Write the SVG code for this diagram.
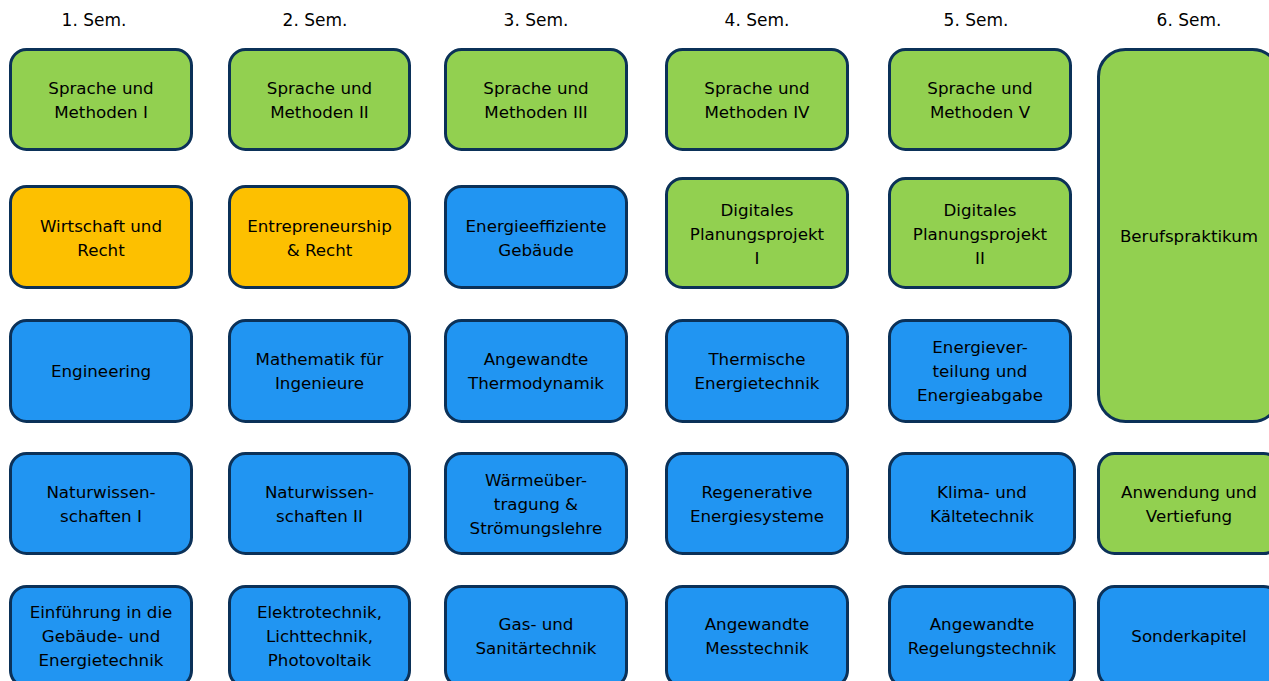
<svg xmlns="http://www.w3.org/2000/svg" width="1269" height="681" viewBox="0 0 1269 681">
<style>
.b{stroke:#0b3158;stroke-width:3}
.g{fill:#92d050}
.o{fill:#fdc000}
.u{fill:#2195f2}
text{font-family:"DejaVu Sans",Verdana,sans-serif;font-size:16.7px;fill:#000;text-anchor:middle}
#headers text{font-size:17px}
</style>
<rect width="1269" height="681" fill="#fff"/>
<g id="headers">
<text x="94" y="26">1. Sem.</text>
<text x="315" y="26">2. Sem.</text>
<text x="536" y="26">3. Sem.</text>
<text x="757" y="26">4. Sem.</text>
<text x="976" y="26">5. Sem.</text>
<text x="1189" y="26">6. Sem.</text>
</g>
<g id="connectors"/>
<!-- Row 1 -->
<g id="sm1"><rect class="b g" x="10.5" y="49.5" width="181" height="100" rx="16"/><text x="101" y="94">Sprache und</text><text x="101" y="118">Methoden I</text></g>
<g id="sm2"><rect class="b g" x="229.5" y="49.5" width="180" height="100" rx="16"/><text x="319.5" y="94">Sprache und</text><text x="319.5" y="118">Methoden II</text></g>
<g id="sm3"><rect class="b g" x="445.5" y="49.5" width="181" height="100" rx="16"/><text x="536" y="94">Sprache und</text><text x="536" y="118">Methoden III</text></g>
<g id="sm4"><rect class="b g" x="666.5" y="49.5" width="181" height="100" rx="16"/><text x="757" y="94">Sprache und</text><text x="757" y="118">Methoden IV</text></g>
<g id="sm5"><rect class="b g" x="889.5" y="49.5" width="181" height="100" rx="16"/><text x="980" y="94">Sprache und</text><text x="980" y="118">Methoden V</text></g>
<g id="beruf"><rect class="b g" x="1098.5" y="49.5" width="181" height="372" rx="27"/><text x="1189" y="242">Berufspraktikum</text></g>
<!-- Row 2 -->
<g id="wr"><rect class="b o" x="10.5" y="186.5" width="181" height="101" rx="16"/><text x="101" y="232">Wirtschaft und</text><text x="101" y="256">Recht</text></g>
<g id="er"><rect class="b o" x="229.5" y="186.5" width="180" height="101" rx="16"/><text x="319.5" y="232">Entrepreneurship</text><text x="319.5" y="256">&amp; Recht</text></g>
<g id="eg"><rect class="b u" x="445.5" y="186.5" width="181" height="101" rx="16"/><text x="536" y="232">Energieeffiziente</text><text x="536" y="256">Gebäude</text></g>
<g id="dp1"><rect class="b g" x="666.5" y="178.5" width="181" height="109" rx="16"/><text x="757" y="216">Digitales</text><text x="757" y="240">Planungsprojekt</text><text x="757" y="264">I</text></g>
<g id="dp2"><rect class="b g" x="889.5" y="178.5" width="181" height="109" rx="16"/><text x="980" y="216">Digitales</text><text x="980" y="240">Planungsprojekt</text><text x="980" y="264">II</text></g>
<!-- Row 3 -->
<g id="eng"><rect class="b u" x="10.5" y="320.5" width="181" height="101" rx="16"/><text x="101" y="377">Engineering</text></g>
<g id="mat"><rect class="b u" x="229.5" y="320.5" width="180" height="101" rx="16"/><text x="319.5" y="365">Mathematik für</text><text x="319.5" y="389">Ingenieure</text></g>
<g id="at"><rect class="b u" x="445.5" y="320.5" width="181" height="101" rx="16"/><text x="536" y="365">Angewandte</text><text x="536" y="389">Thermodynamik</text></g>
<g id="te"><rect class="b u" x="666.5" y="320.5" width="181" height="101" rx="16"/><text x="757" y="365">Thermische</text><text x="757" y="389">Energietechnik</text></g>
<g id="ev"><rect class="b u" x="889.5" y="320.5" width="181" height="101" rx="16"/><text x="980" y="353">Energiever-</text><text x="980" y="377">teilung und</text><text x="980" y="401">Energieabgabe</text></g>
<!-- Row 4 -->
<g id="nw1"><rect class="b u" x="10.5" y="453.5" width="181" height="100" rx="16"/><text x="101" y="498">Naturwissen-</text><text x="101" y="522">schaften I</text></g>
<g id="nw2"><rect class="b u" x="229.5" y="453.5" width="180" height="100" rx="16"/><text x="319.5" y="498">Naturwissen-</text><text x="319.5" y="522">schaften II</text></g>
<g id="wu"><rect class="b u" x="445.5" y="453.5" width="181" height="100" rx="16"/><text x="536" y="486">Wärmeüber-</text><text x="536" y="510">tragung &amp;</text><text x="536" y="534">Strömungslehre</text></g>
<g id="re"><rect class="b u" x="666.5" y="453.5" width="181" height="100" rx="16"/><text x="757" y="498">Regenerative</text><text x="757" y="522">Energiesysteme</text></g>
<g id="kk"><rect class="b u" x="889.5" y="453.5" width="185" height="100" rx="16"/><text x="982" y="498">Klima- und</text><text x="982" y="522">Kältetechnik</text></g>
<g id="av"><rect class="b g" x="1098.5" y="453.5" width="181" height="100" rx="16"/><text x="1189" y="498">Anwendung und</text><text x="1189" y="522">Vertiefung</text></g>
<!-- Row 5 -->
<g id="ein"><rect class="b u" x="10.5" y="586.5" width="181" height="100" rx="16"/><text x="101" y="618">Einführung in die</text><text x="101" y="642">Gebäude- und</text><text x="101" y="666">Energietechnik</text></g>
<g id="el"><rect class="b u" x="229.5" y="586.5" width="180" height="100" rx="16"/><text x="319.5" y="618">Elektrotechnik,</text><text x="319.5" y="642">Lichttechnik,</text><text x="319.5" y="666">Photovoltaik</text></g>
<g id="gs"><rect class="b u" x="445.5" y="586.5" width="181" height="100" rx="16"/><text x="536" y="630">Gas- und</text><text x="536" y="654">Sanitärtechnik</text></g>
<g id="mt"><rect class="b u" x="666.5" y="586.5" width="181" height="100" rx="16"/><text x="757" y="630">Angewandte</text><text x="757" y="654">Messtechnik</text></g>
<g id="rt"><rect class="b u" x="889.5" y="586.5" width="185" height="100" rx="16"/><text x="982" y="630">Angewandte</text><text x="982" y="654">Regelungstechnik</text></g>
<g id="sk"><rect class="b u" x="1098.5" y="586.5" width="181" height="100" rx="16"/><text x="1189" y="642">Sonderkapitel</text></g>
</svg>
